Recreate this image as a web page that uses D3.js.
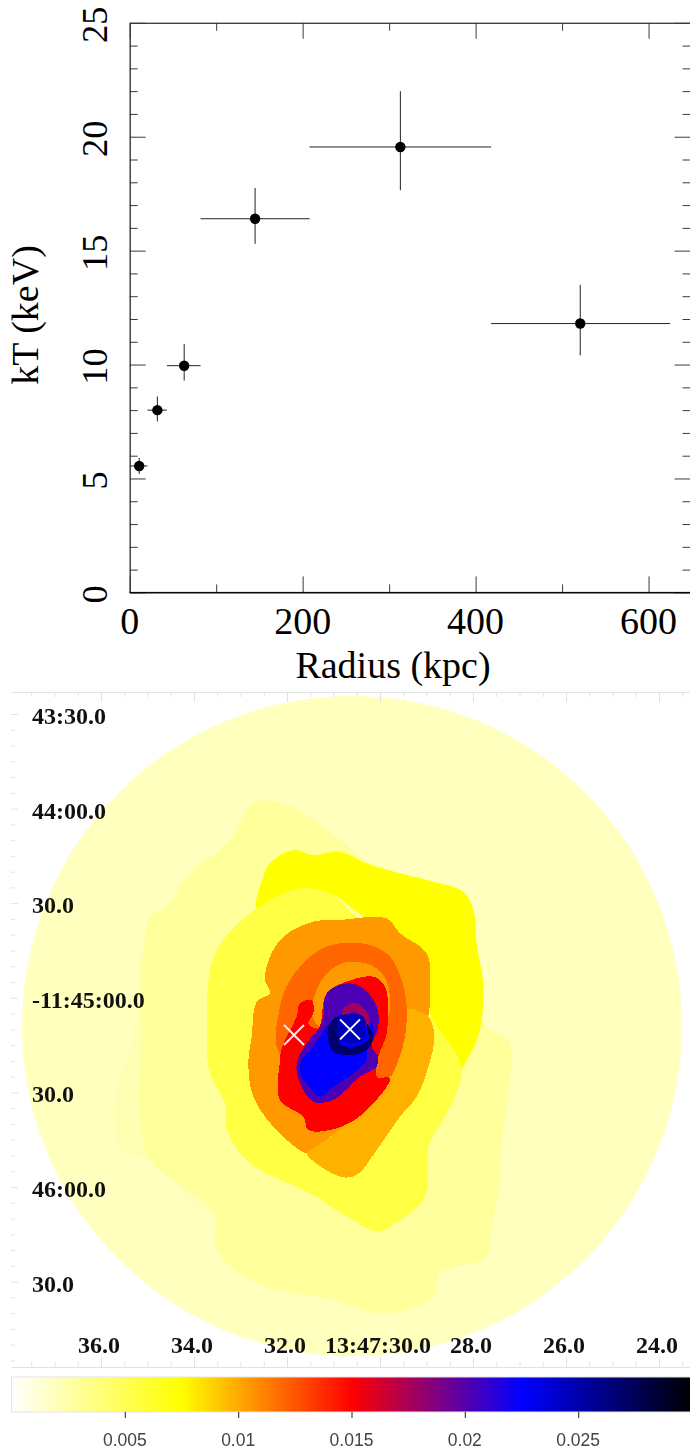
<!DOCTYPE html>
<html><head><meta charset="utf-8">
<script src="https://cdn.jsdelivr.net/npm/d3@7/dist/d3.min.js"></script>
<style>html,body{margin:0;padding:0;background:#fff}svg{display:block}</style>
</head><body><svg id="c" width="690" height="1450"></svg>
<script>
// ---- temperature profile ----
const radius   = [11, 32, 63, 145, 313, 521];
const radiusLo = [0, 20.5, 43, 82, 208, 418];
const radiusHi = [20.5, 43, 82, 208, 418, 625];
const kT       = [5.55, 8.0, 9.95, 16.4, 19.55, 11.8];
const kTLo     = [5.2, 7.5, 9.3, 15.3, 17.65, 10.4];
const kTHi     = [5.9, 8.6, 10.9, 17.75, 22.0, 13.5];
const xMajor = [0, 200, 400, 600];
const xMinor = [100, 300, 500];
const yMajor = [0, 5, 10, 15, 20, 25];
const yMinor = d3.range(0, 26).filter(d => d % 5);

// ---- colour bar ----
const barStops  = [0, 0.0075, 0.015, 0.0225, 0.03];
const barColors = ["#ffffff", "#ffff00", "#ff0000", "#0000ff", "#000000"];
const barTicks  = [0.005, 0.01, 0.015, 0.02, 0.025];
const barLabels = ["0.005", "0.01", "0.015", "0.02", "0.025"];

// ---- sky axes ----
const raMajor = [36, 34, 32, 30, 28, 26, 24];
const raLabels = ["36.0", "34.0", "32.0", "13:47:30.0", "28.0", "26.0", "24.0"];
const decMajor = [0, 30, 60, 90, 120, 150, 180];            // arcsec south of -11:43:30
const decLabels = ["43:30.0", "44:00.0", "30.0", "-11:45:00.0", "30.0", "46:00.0", "30.0"];

// ---- map regions: value and outline on the map grid ----
const regionValues = [0.0019, 0.0022, 0.0029, 0.0075, 0.0055, 0.0105, 0.0098, 0.012, 0.0105, 0.015, 0.0203, 0.0225, 0.0178, 0.0268, 0.0245];
const bandLeft = [[130,400],[95,680],[50,800],[60,990],[150,1020],[340,1180],[400,1100],[300,800]];
const region1 = [[456,-51],[540,-51],[609,-21],[720,60],[900,200],[1100,300],[1140,500],[1150,609],[1230,669],[1225,819],[1210,921],[1200,1059],[1200,1090],[1170,1250],[1160,1310],[1020,1360],[1000,1430],[850,1480],[700,1440],[470,1390],[350,1290],[340,1180],[150,1020],[122,900],[122,700],[130,400],[150,290],[200,260],[270,159],[360,90],[405,39]];
const region2 = [[470,265],[490,170],[510,130],[580,90],[640,105],[720,95],[800,130],[900,160],[1000,185],[1090,215],[1120,270],[1130,370],[1150,500],[1145,600],[1130,660],[1100,720],[1085,745],[1040,690],[990,600],[800,300],[750,260],[700,225],[600,210],[540,235]];
const region3 = [[470,265],[600,205],[700,225],[770,290],[850,300],[1000,600],[1085,745],[1040,880],[985,980],[975,1130],[900,1200],[830,1235],[750,1195],[630,1120],[450,1030],[380,930],[375,850],[330,760],[320,650],[345,400]];
const region4 = [[495,480],[510,410],[550,350],[640,305],[720,300],[860,295],[900,340],[980,400],[990,500],[985,590],[940,720],[880,830],[710,935],[640,990],[620,1000],[520,920],[460,830],[445,730],[455,650],[470,545],[510,520]];
const region5 = [[985,590],[1003,650],[985,740],[950,830],[900,890],[830,990],[770,1065],[720,1070],[620,1000],[640,985],[710,935],[850,790],[890,740],[915,570]];
const region6 = [[538,570],[570,480],[650,395],[720,370],[810,375],[870,410],[905,480],[920,560],[915,650],[895,720],[865,775],[800,760],[540,700]];
const region7 = [[635,580],[650,510],[690,450],[750,425],[830,445],[865,500],[860,600],[800,620],[660,620]];
const region8 = [[680,520],[740,485],[820,470],[855,500],[860,640],[835,710],[830,770],[870,775],[790,880],[710,925],[625,930],[610,890],[540,840],[540,720],[545,685],[590,590],[600,550],[635,540],[640,580],[625,610],[655,625]];
const region9 = [[670,590],[680,520],[740,490],[790,505],[830,560],[835,620],[815,680],[835,710],[830,740],[780,770],[700,840],[640,845],[600,790],[590,730],[620,670],[660,620]];
const region10 = [[605,720],[640,680],[680,620],[710,590],[730,580],[740,600],[780,600],[815,610],[820,650],[800,690],[800,720],[760,760],[700,800],[660,830],[620,790],[600,760]];
const region11 = [[725,590],[735,560],[770,550],[800,575],[810,620],[795,615],[780,585],[760,575],[740,585]];
const region12 = [[685,620],[710,590],[725,600],[720,670],[760,680],[790,670],[805,660],[800,610],[820,650],[800,690],[750,705],[700,695],[685,660]];
const region13 = [[720,590],[790,590],[790,660],[720,660]];
const regions = [bandLeft, region1, region2, region3, region4, region5, region6, region7, region8, region9, region10, region11, region12, region13];
const crossA = [582, 645];
const crossB = [750, 628];

const svg = d3.select("#c");
const serif = "'Liberation Serif','Times New Roman',serif";

// ===== top panel =====
const x = d3.scaleLinear().domain([0, 648.5]).range([129.7, 690.5]);
const y = d3.scaleLinear().domain([0, 25]).range([592.4, 22.8]);
const panel = svg.append("g");

function styleAxis(g, col, width) {
  g.select(".domain").attr("stroke", col).attr("stroke-width", width);
  g.selectAll(".tick line").attr("stroke", col).attr("stroke-width", width);
}
const ink = "#3a3a3a";
function addAxes(gen, vals, size, tr) {
  const g = panel.append("g").attr("transform", tr)
    .call(gen.tickValues(vals).tickSize(size).tickSizeOuter(0).tickFormat(""));
  g.selectAll("text").remove();
  g.attr("fill", "none");
  styleAxis(g, ink, 1);
  return g;
}
addAxes(d3.axisBottom(x), xMajor, 16, "translate(0,22.8)");
addAxes(d3.axisBottom(x), xMinor, 8,  "translate(0,22.8)");
addAxes(d3.axisTop(x), xMajor, 16, "translate(0,592.4)");
addAxes(d3.axisTop(x), xMinor, 8,  "translate(0,592.4)");
addAxes(d3.axisRight(y), yMajor, 16, "translate(129.7,0)");
addAxes(d3.axisRight(y), yMinor, 8,  "translate(129.7,0)");
addAxes(d3.axisLeft(y), yMajor, 16, "translate(690.5,0)");
addAxes(d3.axisLeft(y), yMinor, 8,  "translate(690.5,0)");
panel.append("line").attr("x1", x(0)).attr("x2", x(648.5)).attr("y1", y(0)).attr("y2", y(0)).attr("stroke", "#000").attr("stroke-width", 1);

panel.selectAll("text.xl").data(xMajor).join("text").attr("class", "xl")
  .attr("x", d => x(d)).attr("y", 634).attr("text-anchor", "middle")
  .attr("font-family", serif).attr("font-size", 38).attr("fill", "#000").text(d => d);
panel.selectAll("text.yl").data(yMajor).join("text").attr("class", "yl")
  .attr("transform", d => `translate(107,${y(d) + 2}) rotate(-90)`).attr("text-anchor", "middle")
  .attr("font-family", serif).attr("font-size", 36.5).attr("fill", "#000").text(d => d);
panel.append("text").attr("x", 393).attr("y", 678).attr("text-anchor", "middle")
  .attr("font-family", serif).attr("font-size", 38).text("Radius (kpc)");
panel.append("text").attr("transform", "translate(38,315) rotate(-90)").attr("text-anchor", "middle")
  .attr("font-family", serif).attr("font-size", 38).text("kT (keV)");

radius.forEach((r, i) => {
  panel.append("line").attr("x1", x(radiusLo[i])).attr("x2", x(radiusHi[i])).attr("y1", y(kT[i])).attr("y2", y(kT[i])).attr("stroke", "#222");
  panel.append("line").attr("x1", x(r)).attr("x2", x(r)).attr("y1", y(kTLo[i])).attr("y2", y(kTHi[i])).attr("stroke", "#222");
  panel.append("circle").attr("cx", x(r)).attr("cy", y(kT[i])).attr("r", 5.2).attr("fill", "#000");
});

// ===== bottom panel =====
const colour = d3.scaleLinear().domain(barStops).range(barColors);
const ra  = d3.scaleLinear().domain([36, 24]).range([101, 659]);
const dec = d3.scaleLinear().domain([0, 180]).range([714, 1281.6]);
const gx = d3.scaleLinear().domain([0, 1350]).range([100, 550]);
const gy = d3.scaleLinear().domain([0, 1350]).range([820, 1270]);

const map = svg.append("g").style("filter", "blur(0.5px)");
map.append("circle").attr("cx", gx(756)).attr("cy", gy(618)).attr("r", gx(990) - gx(0))
  .attr("fill", colour(regionValues[0]));
const outline = d3.line().x(d => gx(d[0])).y(d => gy(d[1])).curve(d3.curveCatmullRomClosed.alpha(0.5));
regions.forEach((pts, i) => {
  map.append("path").attr("d", outline(pts)).attr("fill", colour(regionValues[i + 1]))
    .attr("shape-rendering", i > 2 ? "crispEdges" : null);
});
function cross(c, col) {
  const r = 30;
  [[-r,-r,r,r],[-r,r,r,-r]].forEach(s => {
    map.append("line").attr("x1", gx(c[0]+s[0])).attr("y1", gy(c[1]+s[1]))
      .attr("x2", gx(c[0]+s[2])).attr("y2", gy(c[1]+s[3])).attr("stroke", col).attr("stroke-width", 2);
  });
}
cross(crossA, "#ffe8e8");
cross(crossB, "#ffffff");

// sky axes
const grey = "#e2e2e2";
const raAll = d3.range(37.5, 23.2, -0.5);
const decAll = d3.range(0, 210, 5);
const skyAxis = (gen, vals, size, tr, noLine) => {
  const g = map.append("g").attr("transform", tr)
    .call(gen.tickValues(vals).tickSize(size).tickSizeOuter(0).tickFormat(""));
  g.selectAll("text").remove();
  g.select(".domain").attr("stroke", noLine ? "none" : grey);
  g.selectAll(".tick line").attr("stroke", grey);
};
const raFull = ra.copy().domain([ra.invert(11), ra.invert(690)]).range([11, 690]);
const decFull = dec.copy().domain([dec.invert(692), dec.invert(1367)]).range([692, 1367]);
skyAxis(d3.axisBottom(raFull), raAll.filter(d => d % 2), 5, "translate(0,692)");
skyAxis(d3.axisBottom(raFull), raMajor, 10, "translate(0,692)");
skyAxis(d3.axisTop(raFull), raAll.filter(d => d % 2), 5, "translate(0,1367)");
skyAxis(d3.axisTop(raFull), raMajor, 10, "translate(0,1367)");
skyAxis(d3.axisRight(decFull), decAll.filter(d => d % 30), 4, "translate(11,0)", true);
skyAxis(d3.axisRight(decFull), decMajor, 7, "translate(11,0)", true);

map.selectAll("text.ra").data(raMajor).join("text").attr("class", "ra")
  .attr("x", d => ra(d) - 2).attr("y", 1353).attr("text-anchor", "middle")
  .attr("font-family", serif).attr("font-weight", "bold").attr("font-size", 24).attr("fill", "#111")
  .text((d, i) => raLabels[i]);
map.selectAll("text.dec").data(decMajor).join("text").attr("class", "dec")
  .attr("x", 32).attr("y", d => dec(d) + 10).attr("text-anchor", "start")
  .attr("font-family", serif).attr("font-weight", "bold").attr("font-size", 24).attr("fill", "#111")
  .text((d, i) => decLabels[i]);

// colour bar
const bar = d3.scaleLinear().domain([0, 0.03]).range([11.5, 691.5]);
const defs = svg.append("defs");
const grad = defs.append("linearGradient").attr("id", "cb").attr("gradientUnits", "userSpaceOnUse")
  .attr("x1", bar(0)).attr("x2", bar(0.03)).attr("y1", 0).attr("y2", 0);
barStops.forEach((v, i) => grad.append("stop").attr("offset", v / 0.03).attr("stop-color", barColors[i]));
const barG = svg.append("g").style("filter", "blur(0.5px)");
barG.append("rect").attr("x", bar(0)).attr("y", 1377).attr("width", bar(0.03) - bar(0)).attr("height", 35)
  .attr("fill", "url(#cb)").attr("stroke", "#e4e4e4").attr("stroke-width", 1);
const barAxis = barG.append("g").attr("transform", "translate(0,1412)")
  .call(d3.axisBottom(bar).tickValues(barTicks).tickSize(6).tickSizeOuter(0).tickFormat(""));
barAxis.select(".domain").remove();
barAxis.selectAll("text").remove();
barAxis.selectAll(".tick line").attr("stroke", "#444").attr("stroke-width", 1.2);
barG.selectAll("text.bl").data(barTicks).join("text").attr("class", "bl")
  .attr("x", d => bar(d)).attr("y", 1446).attr("text-anchor", "middle")
  .attr("font-family", "'Liberation Sans',Arial,sans-serif").attr("font-size", 17.5).attr("fill", "#444")
  .text((d, i) => barLabels[i]);
</script></body></html>
